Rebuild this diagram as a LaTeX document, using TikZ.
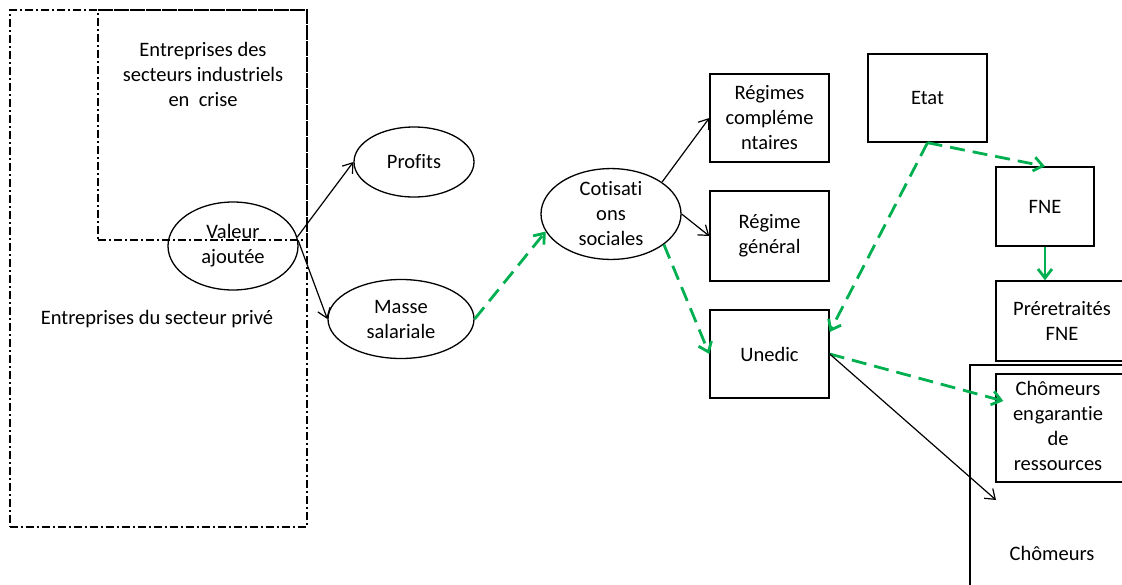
\documentclass[tikz,border=0pt]{standalone}
\usepackage{fontspec}
\setmainfont{Carlito}[Ligatures=NoCommon]
\usetikzlibrary{shapes.geometric,arrows.meta}
\definecolor{ogreen}{RGB}{0,176,80}
\begin{document}
\begin{tikzpicture}[x=1pt,y=-1pt,
  font=\fontsize{20.5}{25}\selectfont,
  ell/.style={draw, ellipse, line width=1.3pt, inner sep=0pt, align=center},
  box/.style={draw, rectangle, line width=1.4pt, inner sep=0pt, align=center},
  ddbox/.style={draw, rectangle, line width=1.2pt, inner sep=0pt, dash pattern=on 8pt off 3pt on 2pt off 3pt},
  lbl/.style={inner sep=0pt, align=center},
  blk/.style={-{Straight Barb[length=9pt,width=13pt]}, line width=1.2pt},
  grn/.style={draw=ogreen, line width=2.8pt, dash pattern=on 15pt off 8pt, -{Straight Barb[length=9pt,width=14pt]}},
  grs/.style={draw=ogreen, line width=2.8pt, -{Straight Barb[length=9pt,width=14pt]}}]
\path[use as bounding box, clip] (0,0) rectangle (1122,584);
\fill[white] (0,0) rectangle (1122,584);
% dash-dot frames
\node[ddbox, minimum width=297pt, minimum height=517pt] (priv) at (158.5,268.5) {};
\node[ddbox, minimum width=209pt, minimum height=230pt] (ind) at (202.5,125) {};
\node[lbl] (indtxt) at (203,74) {Entreprises des\\secteurs industriels\\en\ \ crise};
\node[lbl] (privtxt) at (157,319) {Entreprises du secteur privé};
% ellipses
\node[ell, minimum width=130pt, minimum height=88pt] (va) at (233,246) {Valeur\\ajoutée};
\node[ell, minimum width=120pt, minimum height=70pt] (pr) at (414,162) {Profits};
\node[ell, minimum width=146pt, minimum height=79pt] (ms) at (401,319) {Masse\\salariale};
\node[ell, minimum width=140pt, minimum height=86pt] (cot) at (611,214) {Cotisati\\ons\\sociales};
% boxes
\node[box, minimum width=119pt, minimum height=88pt] (rc) at (769.5,118) {Régimes\\compléme\\ntaires};
\node[box, minimum width=119pt, minimum height=90pt] (rg) at (769.5,236) {Régime\\général};
\node[box, minimum width=119pt, minimum height=88pt] (un) at (769.5,354) {Unedic};
\node[box, minimum width=119pt, minimum height=88pt] (etat) at (927.5,98) {Etat};
\node[box, minimum width=98pt, minimum height=79pt] (fne) at (1045,206.5) {FNE};
\node[box, minimum width=132pt, minimum height=80pt] (pre) at (1062,321) {Préretraités\\FNE};
\node[box, minimum width=170pt, minimum height=240pt] (ch) at (1055,485) {};
\node[lbl] (chtxt) at (1052,553) {Chômeurs};
\node[box, minimum width=128pt, minimum height=108pt] (cg) at (1060,428) {};
\node[lbl] (cgtxt) at (1058,425.5) {Chômeurs\\en\kern1pt garantie\\de\\ressources};
\coordinate (chtip) at (996,500);
% connectors
\draw[blk] (va.8) -- (pr.west);
\draw[blk] (va.5) -- (ms.west);
\draw[grn] (ms.east) -- (cot.195);
\draw[blk] (cot.32) -- (rc.west);
\draw[blk] (cot.east) -- (rg.west);
\draw[grn] (cot.-30) -- (un.west);
\draw[grn] (etat.south) -- (fne.north);
\draw[grn] (etat.south) -- ([yshift=22pt]un.east);
\draw[grs] (fne.south) -- (fne.south |- pre.north);
\draw[grn] (un.east) -- ([xshift=8pt,yshift=27pt]cg.west);
\draw[blk] (un.east) -- (chtip);
\end{tikzpicture}
\end{document}
